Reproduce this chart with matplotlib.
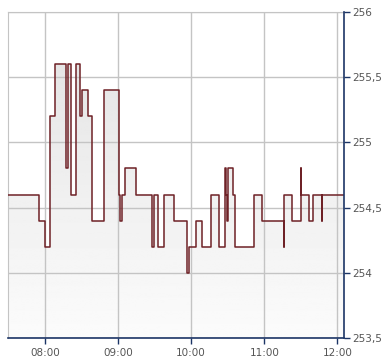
import matplotlib
matplotlib.use('Agg')
import matplotlib.pyplot as plt
import numpy as np
from matplotlib.ticker import FuncFormatter

# trade times (step starts) and prices
times = ['07:30:00', '07:55:00', '08:00:30', '08:04:36', '08:08:12', '08:17:12',
         '08:19:18', '08:21:36', '08:25:24', '08:29:12', '08:30:48', '08:35:42',
         '08:39:00', '08:48:54', '09:01:12', '09:02:00', '09:03:24', '09:06:06',
         '09:14:48', '09:27:42', '09:28:12', '09:29:48', '09:33:06', '09:37:30',
         '09:46:12', '09:56:24', '09:58:00', '10:04:18', '10:08:42', '10:16:06',
         '10:22:36', '10:27:30', '10:28:24', '10:29:42', '10:30:30', '10:34:36',
         '10:36:12', '10:51:48', '10:57:54', '11:15:54', '11:16:24', '11:22:30',
         '11:30:12', '11:30:24', '11:36:54', '11:40:12', '11:47:06', '11:47:42',
         '12:05:36']
prices = [254.6, 254.4, 254.2, 255.2, 255.6, 254.8,
          255.6, 254.6, 255.6, 255.2, 255.4, 255.2,
          254.4, 255.4, 254.6, 254.4, 254.6, 254.8,
          254.6, 254.4, 254.2, 254.6, 254.2, 254.6,
          254.4, 254.0, 254.2, 254.4, 254.2, 254.6,
          254.2, 254.8, 254.6, 254.4, 254.8, 254.6,
          254.2, 254.6, 254.4, 254.2, 254.6, 254.4,
          254.8, 254.6, 254.4, 254.6, 254.4, 254.6,
          254.6]

x_ticks = [8, 9, 10, 11, 12]
x_labels = ['08:00', '09:00', '10:00', '11:00', '12:00']
y_ticks = [253.5, 254, 254.5, 255, 255.5, 256]


def to_hours(s):
    h, m, sec = s.split(':')
    return int(h) + int(m) / 60 + int(sec) / 3600


x = np.array([to_hours(t) for t in times])
y = np.array(prices)

fig = plt.figure(figsize=(3.9, 3.64), dpi=100)
ax = fig.add_axes([8.3 / 390, 1 - 338 / 364, (344.3 - 8.3) / 390, (338 - 12) / 364])

xmin, xmax = x[0], x[-1]
ymin, ymax = 253.5, 256

# gradient fill under the step line
poly = ax.fill_between(x, y, ymin, step='post', color='none', lw=0)
grad = np.linspace(0.985, 0.90, 256).reshape(-1, 1)
img = ax.imshow(grad, extent=[xmin, xmax, ymin, 255.6], origin='lower',
                cmap='gray', vmin=0, vmax=1, aspect='auto', zorder=1)
img.set_clip_path(poly.get_paths()[0], transform=ax.transData)

ax.step(x, y, where='post', color='#6e2126', lw=1.1, zorder=3)

ax.set_xlim(xmin, xmax)
ax.set_ylim(ymin, ymax)

ax.set_xticks(x_ticks)
ax.set_xticklabels(x_labels)
ax.set_yticks(y_ticks)
ax.yaxis.set_major_formatter(FuncFormatter(lambda v, p: ('%g' % v).replace('.', ',')))
ax.yaxis.tick_right()

ax.set_axisbelow(False)
ax.grid(True, color='#c4c4c4', lw=1, zorder=2)

for s in ['top', 'left']:
    ax.spines[s].set_color('#c4c4c4')
for s in ['bottom', 'right']:
    ax.spines[s].set_color('#1c3566')
    ax.spines[s].set_linewidth(1.2)
    ax.spines[s].set_zorder(4)

ax.tick_params(axis='both', colors='#1c3566', labelcolor='#555555',
               labelsize=7.5, length=4, width=1, pad=2)
ax.tick_params(axis='x', pad=3)

fig.savefig('out.png', dpi=100)
